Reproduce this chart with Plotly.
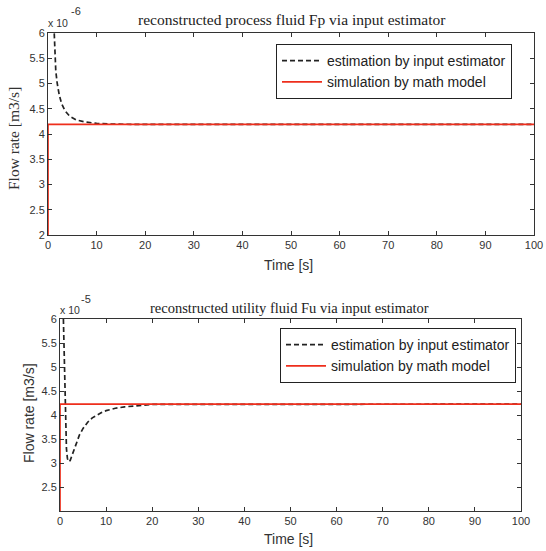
import plotly.graph_objects as go

# ---- data ----
t_est_p = [0, 1.0, 1.25, 1.4, 1.6, 1.9, 2.3, 2.8, 3.5, 4.5, 5.8, 7.5, 10, 13, 20, 100]
y_est_p = [9, 6.8, 6.0, 5.6, 5.25, 5.0, 4.78, 4.6, 4.46, 4.35, 4.28, 4.24, 4.21, 4.195, 4.19, 4.19]
t_sim_p = [0, 0, 100]
y_sim_p = [2, 4.19, 4.19]

t_est_u = [0, 0.6, 0.8, 1.0, 1.2, 1.4, 1.6, 1.8, 2.2, 2.8, 3.5, 4.2, 5, 6, 7, 8, 9, 10, 12, 14, 17, 20, 100]
y_est_u = [9, 6.5, 5.5, 4.4, 3.7, 3.3, 3.1, 3.03, 3.05, 3.2, 3.4, 3.58, 3.72, 3.85, 3.94, 4.0, 4.05, 4.09, 4.14, 4.17, 4.2, 4.22, 4.226]
t_sim_u = [0, 0, 100]
y_sim_u = [2, 4.226, 4.226]

x_ticks = [0, 10, 20, 30, 40, 50, 60, 70, 80, 90, 100]
y_ticks_p = [2, 2.5, 3, 3.5, 4, 4.5, 5, 5.5, 6]
y_ticks_u = [2.5, 3, 3.5, 4, 4.5, 5, 5.5, 6]

names = ["estimation by input estimator", "simulation by math model"]
titles = ["reconstructed process fluid Fp via input estimator",
          "reconstructed utility fluid Fu via input estimator"]

W, H = 546, 551
RED = "#ee2e1c"
BLACK = "#222222"
DASH = "5px,3px"

fig = go.Figure()
fig.add_trace(go.Scatter(x=t_est_p, y=y_est_p, mode="lines", name=names[0],
                         line=dict(color=BLACK, width=1.7, dash=DASH),
                         xaxis="x", yaxis="y", legend="legend"))
fig.add_trace(go.Scatter(x=t_sim_p, y=y_sim_p, mode="lines", name=names[1],
                         line=dict(color=RED, width=1.7),
                         xaxis="x", yaxis="y", legend="legend"))
fig.add_trace(go.Scatter(x=t_est_u, y=y_est_u, mode="lines", name=names[0],
                         line=dict(color=BLACK, width=1.7, dash=DASH),
                         xaxis="x2", yaxis="y2", legend="legend2"))
fig.add_trace(go.Scatter(x=t_sim_u, y=y_sim_u, mode="lines", name=names[1],
                         line=dict(color=RED, width=1.7),
                         xaxis="x2", yaxis="y2", legend="legend2"))

tickfont = dict(family="Liberation Sans, Arial", size=11, color="#333333")
axcommon = dict(showgrid=False, zeroline=False, showline=True, linecolor="#333333",
                linewidth=1, mirror="ticks", ticks="inside", ticklen=4,
                tickcolor="#333333", tickfont=tickfont, automargin=False)

def px_x(p):
    return p / W

def px_y(p):
    return 1 - p / H

legfont = dict(family="Liberation Sans, Arial", size=14, color="#222222")
fig.update_layout(
    width=W, height=H,
    margin=dict(l=0, r=0, t=0, b=0, autoexpand=False),
    paper_bgcolor="white", plot_bgcolor="white",
    xaxis=dict(domain=[px_x(48), px_x(534)], range=[0, 100], tickvals=x_ticks,
               anchor="y", **axcommon),
    yaxis=dict(domain=[px_y(235), px_y(33)], range=[2, 6], tickvals=y_ticks_p,
               anchor="x", **axcommon),
    xaxis2=dict(domain=[px_x(60), px_x(521)], range=[0, 100], tickvals=x_ticks,
                anchor="y2", **axcommon),
    yaxis2=dict(domain=[px_y(511), px_y(319)], range=[2, 6], tickvals=y_ticks_u,
                anchor="x2", **axcommon),
    legend=dict(x=px_x(276), y=px_y(44), xanchor="left", yanchor="top",
                bordercolor="#222222", borderwidth=1, bgcolor="white",
                font=legfont, tracegroupgap=0, itemwidth=40),
    legend2=dict(x=px_x(280), y=px_y(328), xanchor="left", yanchor="top",
                 bordercolor="#222222", borderwidth=1, bgcolor="white",
                 font=legfont, tracegroupgap=0, itemwidth=40),
    showlegend=True,
)

ann = []
serif_top = dict(family="Liberation Serif, Times New Roman", size=15.5, color="#222222")
serif_bot = dict(family="Liberation Serif, Times New Roman", size=14.5, color="#222222")
sans = dict(family="Liberation Sans, Arial", size=14, color="#333333")
small = dict(family="Liberation Sans, Arial", size=10.5, color="#333333")
sup = dict(family="Liberation Sans, Arial", size=11, color="#333333")
ann.append(dict(text=titles[0], x=px_x(291.5), y=px_y(20), font=serif_top))
ann.append(dict(text=titles[1], x=px_x(289), y=px_y(308), font=serif_bot))
ann.append(dict(text="Time [s]", x=px_x(288.5), y=px_y(265), font=sans))
ann.append(dict(text="Time [s]", x=px_x(288), y=px_y(539), font=sans))
ann.append(dict(text="Flow rate [m3/s]", x=px_x(13), y=px_y(139), textangle=-90,
                font=dict(family="Liberation Serif, Times New Roman", size=15.5, color="#333333")))
ann.append(dict(text="Flow rate [m3/s]", x=px_x(29), y=px_y(413), textangle=-90, font=sans))
ann.append(dict(text="x 10", x=px_x(58), y=px_y(23), font=small))
ann.append(dict(text="-6", x=px_x(76), y=px_y(11), font=sup))
ann.append(dict(text="x 10", x=px_x(70), y=px_y(310), font=small))
ann.append(dict(text="-5", x=px_x(85.5), y=px_y(299), font=sup))
for a in ann:
    a.update(xref="paper", yref="paper", showarrow=False, xanchor="center", yanchor="middle")
fig.update_layout(annotations=ann)

fig.write_html("out.html", config={"displayModeBar": False},
               post_script="document.body.style.margin='0';document.body.style.overflow='hidden';")
